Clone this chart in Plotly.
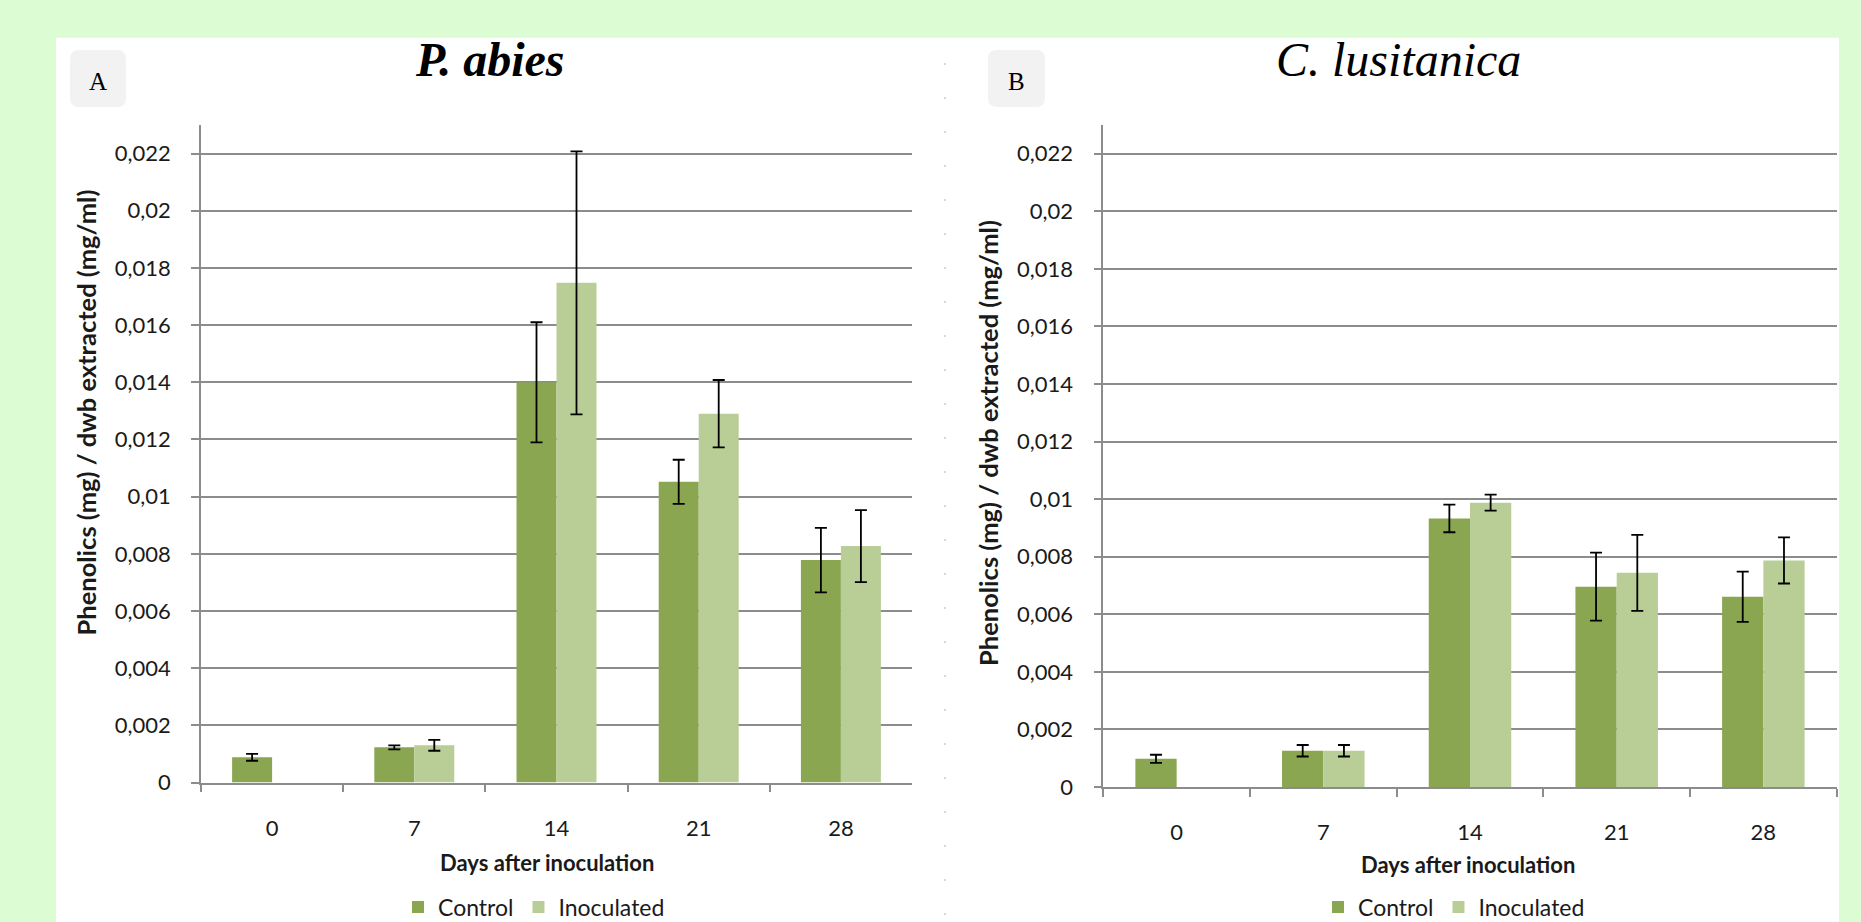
import plotly.graph_objects as go

W, H = 1861, 922

# ---- data -------------------------------------------------------------
days = ["0", "7", "14", "21", "28"]

abies_control = [0.00088, 0.00123, 0.0140, 0.01052, 0.00778]
abies_control_err = [0.00012, 0.00007, 0.0021, 0.00077, 0.00113]
abies_inoculated = [None, 0.00130, 0.01748, 0.01290, 0.00827]
abies_inoculated_err = [None, 0.00019, 0.0046, 0.00118, 0.00126]

lusitanica_control = [0.00098, 0.00126, 0.00933, 0.00696, 0.00661]
lusitanica_control_err = [0.00014, 0.00020, 0.00048, 0.00118, 0.00087]
lusitanica_inoculated = [None, 0.00126, 0.00988, 0.00744, 0.00787]
lusitanica_inoculated_err = [None, 0.00020, 0.00028, 0.00132, 0.00080]

y_tickvals = [0, 0.002, 0.004, 0.006, 0.008, 0.01, 0.012, 0.014, 0.016, 0.018, 0.02, 0.022]
y_ticktext = ["0", "0,002", "0,004", "0,006", "0,008", "0,01", "0,012",
              "0,014", "0,016", "0,018", "0,02", "0,022"]

# ---- style ------------------------------------------------------------
CONTROL = "#8aa651"
INOCULATED = "#b9cd96"
GRID = "#8c8c8c"
BG = "#dcfcd4"
SANS = "Lato"
SERIF = "Liberation Serif"
TEXT = "#1a1a1a"


def px(x):
    return x / W


def py(y):
    return 1 - y / H


fig = go.Figure()


def add_bars(xa, ya, ctrl, ctrl_err, inoc, inoc_err, legend):
    err_style = dict(type="data", color="black", thickness=1.8, width=6)
    fig.add_trace(go.Bar(
        x=days, y=ctrl, name="Control", marker=dict(color=CONTROL, line=dict(width=0)),
        error_y=dict(array=ctrl_err, **err_style), xaxis=xa, yaxis=ya, legend=legend,
    ))
    fig.add_trace(go.Bar(
        x=days, y=inoc, name="Inoculated", marker=dict(color=INOCULATED, line=dict(width=0)),
        error_y=dict(array=inoc_err, **err_style), xaxis=xa, yaxis=ya, legend=legend,
    ))


add_bars("x", "y", abies_control, abies_control_err,
         abies_inoculated, abies_inoculated_err, "legend")
add_bars("x2", "y2", lusitanica_control, lusitanica_control_err,
         lusitanica_inoculated, lusitanica_inoculated_err, "legend2")

xaxis_common = dict(
    type="category", range=[-0.5, 4.5], showgrid=False, zeroline=False,
    showline=True, linecolor=GRID, linewidth=1.6,
    ticks="outside", tickson="boundaries", ticklen=8, tickcolor=GRID, tickwidth=1.6,
    tickfont=dict(family=SANS, size=22, color=TEXT), ticklabelstandoff=25,
    fixedrange=True,
)
yaxis_common = dict(
    range=[0, 0.023], tickvals=y_tickvals, ticktext=y_ticktext,
    showgrid=True, gridcolor=GRID, gridwidth=1.6, zeroline=False,
    showline=True, linecolor=GRID, linewidth=1.6,
    ticks="outside", ticklen=8, tickcolor=GRID, tickwidth=1.6,
    tickfont=dict(family=SANS, size=22, color=TEXT), ticklabelstandoff=16,
    fixedrange=True,
)

legend_common = dict(orientation="h", yanchor="middle", y=py(907),
                     font=dict(family=SANS, size=23, color=TEXT),
                     bgcolor="rgba(0,0,0,0)", itemclick=False, itemdoubleclick=False)

fig.update_layout(
    width=W, height=H,
    margin=dict(l=0, r=0, t=0, b=0, pad=0, autoexpand=False),
    paper_bgcolor=BG, plot_bgcolor="rgba(0,0,0,0)",
    barmode="group", bargap=0.4375, bargroupgap=0,
    showlegend=True,
    xaxis=dict(domain=[px(201), px(912)], anchor="y", **xaxis_common),
    yaxis=dict(domain=[py(782.5), py(125)], anchor="x", **yaxis_common),
    xaxis2=dict(domain=[px(1103.3), px(1836.7)], anchor="y2", **xaxis_common),
    yaxis2=dict(domain=[py(787), py(125)], anchor="x2", **yaxis_common),
    legend=dict(x=px(398), xanchor="left", **legend_common),
    legend2=dict(x=px(1318), xanchor="left", **legend_common),
)


def rounded_box(x0, y0, x1, y1, r):
    return (f"M{px(x0 + r)},{py(y0)} L{px(x1 - r)},{py(y0)} Q{px(x1)},{py(y0)} {px(x1)},{py(y0 + r)} "
            f"L{px(x1)},{py(y1 - r)} Q{px(x1)},{py(y1)} {px(x1 - r)},{py(y1)} "
            f"L{px(x0 + r)},{py(y1)} Q{px(x0)},{py(y1)} {px(x0)},{py(y1 - r)} "
            f"L{px(x0)},{py(y0 + r)} Q{px(x0)},{py(y0)} {px(x0 + r)},{py(y0)} Z")


shapes = [
    # white sheet behind both charts
    dict(type="rect", xref="paper", yref="paper", x0=px(56), x1=px(1839), y0=py(922), y1=py(37.7),
         fillcolor="white", line=dict(width=0), layer="below"),
    # panel letter boxes
    dict(type="path", xref="paper", yref="paper", path=rounded_box(70, 50, 126, 107, 9),
         fillcolor="#f2f2f2", line=dict(width=0), layer="below"),
    dict(type="path", xref="paper", yref="paper", path=rounded_box(988, 50, 1045, 107, 9),
         fillcolor="#f2f2f2", line=dict(width=0), layer="below"),
    # faint dotted divider between the two charts
    dict(type="line", xref="paper", yref="paper", x0=px(945), x1=px(945), y0=py(63), y1=py(915),
         line=dict(color="#c9cfe2", width=1.6, dash="2px,32px"), layer="below"),
]

annotations = [
    dict(text="A", x=px(98), y=py(81), font=dict(family=SERIF, size=25, color="black")),
    dict(text="B", x=px(1016), y=py(81), font=dict(family=SERIF, size=25, color="black")),
    dict(text="<b><i>P. abies</i></b>", x=px(489.5), y=py(60),
         font=dict(family=SERIF, size=48, color="black")),
    dict(text="<i>C. lusitanica</i>", x=px(1398), y=py(60),
         font=dict(family=SERIF, size=48, color="black")),
    dict(text="<b>Phenolics (mg) / dwb extracted (mg/ml)</b>", x=px(85.5), y=py(413),
         textangle=-90, font=dict(family=SANS, size=25.5, color=TEXT)),
    dict(text="<b>Phenolics (mg) / dwb extracted (mg/ml)</b>", x=px(988), y=py(443),
         textangle=-90, font=dict(family=SANS, size=25.5, color=TEXT)),
    dict(text="<b>Days after inoculation</b>", x=px(546.5), y=py(862),
         font=dict(family=SANS, size=22, color=TEXT)),
    dict(text="<b>Days after inoculation</b>", x=px(1468), y=py(864),
         font=dict(family=SANS, size=22, color=TEXT)),
]
for a in annotations:
    a.update(xref="paper", yref="paper", xanchor="center", yanchor="middle", showarrow=False)

fig.update_layout(shapes=shapes, annotations=annotations)

fig.write_html("out.html", config=dict(displayModeBar=False))
